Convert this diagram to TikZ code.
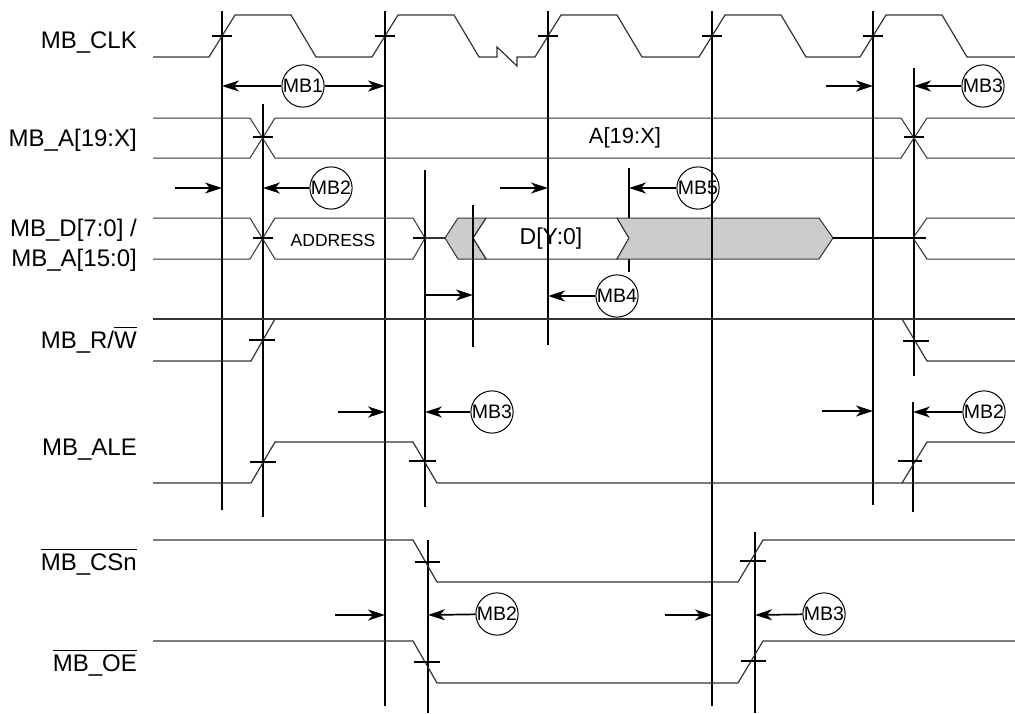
\documentclass[tikz,border=0pt]{standalone}
\usepackage{fontspec}
\setmainfont{Liberation Sans}
\usetikzlibrary{arrows.meta}
\newcommand\ovbar[1]{\vbox{\hrule height 1.4pt\kern 3pt\hbox{#1}}}
\begin{document}
\begin{tikzpicture}[x=1pt,y=-1pt,
  vline/.style={line width=1.7pt,black},
  sig/.style={line width=1.2pt,black!80},
  bus/.style={line width=1pt,black!80},
  tickmark/.style={line width=1.5pt,black},
  meas/.style={line width=1.7pt,black,-{Stealth[length=17pt,width=11pt,inset=5pt]}},
  tag/.style={circle,draw,line width=1pt,minimum size=42pt,inner sep=0pt,font=\fontsize{19.5}{20}\selectfont},
  lbl/.style={anchor=base east,inner sep=0pt,font=\fontsize{24}{28}\selectfont},
  buslbl/.style={inner sep=0pt,font=\fontsize{22}{26}\selectfont}
]
\useasboundingbox (0,0) rectangle (1015,713);

% signal labels
\node[lbl] (lclk) at (137,48) {MB\_CLK};
\node[lbl] (la) at (137,146) {MB\_A[19:X]};
\node[lbl] (ld1) at (137,236) {MB\_D[7:0] /};
\node[lbl] (ld2) at (137,266) {MB\_A[15:0]};
\node[lbl] (lrw) at (137,348) {MB\_R/\ovbar{W}};
\node[lbl] (lale) at (137,455) {MB\_ALE};
\node[lbl] (lcs) at (137,570) {\ovbar{MB\_CSn}};
\node[lbl] (loe) at (137,671) {\ovbar{MB\_OE}};

% vertical timing lines
\draw[vline] (222,11) -- (222,510);
\draw[vline] (263,104) -- (263,517);
\draw[vline] (385,11) -- (385,706);
\draw[vline] (425,170) -- (425,507);
\draw[vline] (428,540) -- (428,713);
\draw[vline] (473,205) -- (473,347);
\draw[vline] (548,11) -- (548,345);
\draw[vline] (629,168) -- (629,272);
\draw[vline] (712,11) -- (712,706);
\draw[vline] (755,532) -- (755,713);
\draw[vline] (873,11) -- (873,505);
\draw[vline] (914,68) -- (914,376);
\draw[vline] (913,402) -- (913,512);

% clock
\draw[sig] (153,57) -- (209,57) -- (235,15) -- (291,15) -- (316,57) -- (372,57) -- (398,15) -- (454,15) -- (479,57) -- (497,57) -- (497,47) -- (517,66) -- (517,57) -- (535,57) -- (561,15) -- (617,15) -- (642,57) -- (699,57) -- (725,15) -- (781,15) -- (806,57) -- (860,57) -- (886,15) -- (942,15) -- (967,57) -- (1015,57);
\foreach \c in {222,385,548,712,873} \draw[tickmark] (\c-10,36) -- (\c+10,36);

% address bus
\draw[bus] (153,118) -- (250,118) -- (275,158) -- (901,158) -- (927,118) -- (1015,118);
\draw[bus] (153,158) -- (250,158) -- (275,118) -- (901,118) -- (927,158) -- (1015,158);
\draw[tickmark] (253,137) -- (273,137);
\draw[tickmark] (904,137) -- (924,137);
\node[buslbl] (ta) at (625,138) {A[19:X]};

% data bus
\draw[bus] (153,218) -- (250,218) -- (275,259) -- (413,259) -- (425,238) -- (413,218) -- (275,218) -- (250,259) -- (153,259);
\draw[tickmark] (253,238) -- (273,238);
\draw[tickmark] (413,238) -- (437,238);
\draw[sig] (425,238) -- (445,238);
\filldraw[bus,fill=black!20] (445,238) -- (458,218) -- (486,218) -- (473,238) -- (486,259) -- (458,259) -- cycle;
\draw[bus] (473,238) -- (486,218) -- (617,218) -- (629,238) -- (617,259) -- (486,259) -- cycle;
\filldraw[bus,fill=black!20] (617,218) -- (819,218) -- (833,238) -- (819,259) -- (617,259) -- (629,238) -- cycle;
\draw[sig,black] (833,238) -- (913,238);
\draw[bus] (1015,218) -- (927,218) -- (913,238) -- (927,259) -- (1015,259);
\draw[tickmark] (904,238) -- (926,238);
\node[inner sep=0pt,font=\fontsize{17.5}{20}\selectfont] (taddr) at (333,240) {ADDRESS};
\node[buslbl,font=\fontsize{23}{26}\selectfont] (tdat) at (551,239) {D[Y:0]};
% vertical lines over the data bus fill
\draw[vline] (473,218) -- (473,259);
\draw[vline] (712,218) -- (712,259);
\draw[vline] (548,218) -- (548,259);

% R/W
\draw[sig] (153,319) -- (1015,319);
\draw[sig] (153,361) -- (251,361) -- (275,319);
\draw[sig] (902,319) -- (927,361) -- (1015,361);
\draw[tickmark] (249,340) -- (275,340);
\draw[tickmark] (903,341) -- (929,341);

% ALE
\draw[sig] (153,483) -- (251,483) -- (275,442) -- (413,442) -- (437,483) -- (1015,483);
\draw[sig] (902,483) -- (927,442) -- (1015,442);
\draw[tickmark] (250,462) -- (276,462);
\draw[tickmark] (409,461) -- (436,461);
\draw[tickmark] (898,461) -- (922,461);

% CSn
\draw[sig] (153,540) -- (413,540) -- (437,582) -- (738,582) -- (763,540) -- (1015,540);
\draw[tickmark] (415,562) -- (440,562);
\draw[tickmark] (740,561) -- (766,561);
% OE
\draw[sig] (153,641) -- (413,641) -- (437,683) -- (738,683) -- (763,641) -- (1015,641);
\draw[tickmark] (414,662) -- (440,662);
\draw[tickmark] (741,661) -- (766,661);

% measurement arrows and tags
\coordinate (a1l) at (222,86);
\coordinate (a1r) at (385,86);
\node[tag] (mb1) at (303,86) {MB1};
\draw[meas] (mb1) -- (a1l);
\draw[meas] (mb1) -- (a1r);

\coordinate (a2s) at (826,86);
\coordinate (a2e) at (873,86);
\coordinate (a2t) at (914,86);
\draw[meas] (a2s) -- (a2e);
\node[tag] (mb3a) at (983,86) {MB3};
\draw[meas] (mb3a) -- (a2t);

\coordinate (a3s) at (175,188);
\coordinate (a3e) at (222,188);
\coordinate (a3t) at (263,188);
\draw[meas] (a3s) -- (a3e);
\node[tag] (mb2a) at (331,188) {MB2};
\draw[meas] (mb2a) -- (a3t);

\coordinate (a4s) at (500,188);
\coordinate (a4e) at (548,188);
\coordinate (a4t) at (629,188);
\draw[meas] (a4s) -- (a4e);
\node[tag] (mb5) at (698,188) {MB5};
\draw[meas] (mb5) -- (a4t);

\coordinate (a5s) at (426,295);
\coordinate (a5e) at (473,295);
\coordinate (a5t) at (548,296);
\draw[meas] (a5s) -- (a5e);
\node[tag] (mb4) at (617,296) {MB4};
\draw[meas] (mb4) -- (a5t);

\coordinate (a6s) at (338,412);
\coordinate (a6e) at (385,412);
\coordinate (a6t) at (425,412);
\draw[meas] (a6s) -- (a6e);
\node[tag] (mb3b) at (492,412) {MB3};
\draw[meas] (mb3b) -- (a6t);

\coordinate (a7s) at (822,411);
\coordinate (a7e) at (873,411);
\coordinate (a7t) at (913,412);
\draw[meas] (a7s) -- (a7e);
\node[tag] (mb2b) at (984,412) {MB2};
\draw[meas] (mb2b) -- (a7t);

\coordinate (a8s) at (335,615);
\coordinate (a8e) at (385,615);
\coordinate (a8t) at (428,615);
\draw[meas] (a8s) -- (a8e);
\node[tag] (mb2c) at (497,614) {MB2};
\draw[meas] (mb2c) -- (a8t);

\coordinate (a9s) at (665,615);
\coordinate (a9e) at (712,615);
\coordinate (a9t) at (755,615);
\draw[meas] (a9s) -- (a9e);
\node[tag] (mb3c) at (824,614) {MB3};
\draw[meas] (mb3c) -- (a9t);
\end{tikzpicture}
\end{document}
